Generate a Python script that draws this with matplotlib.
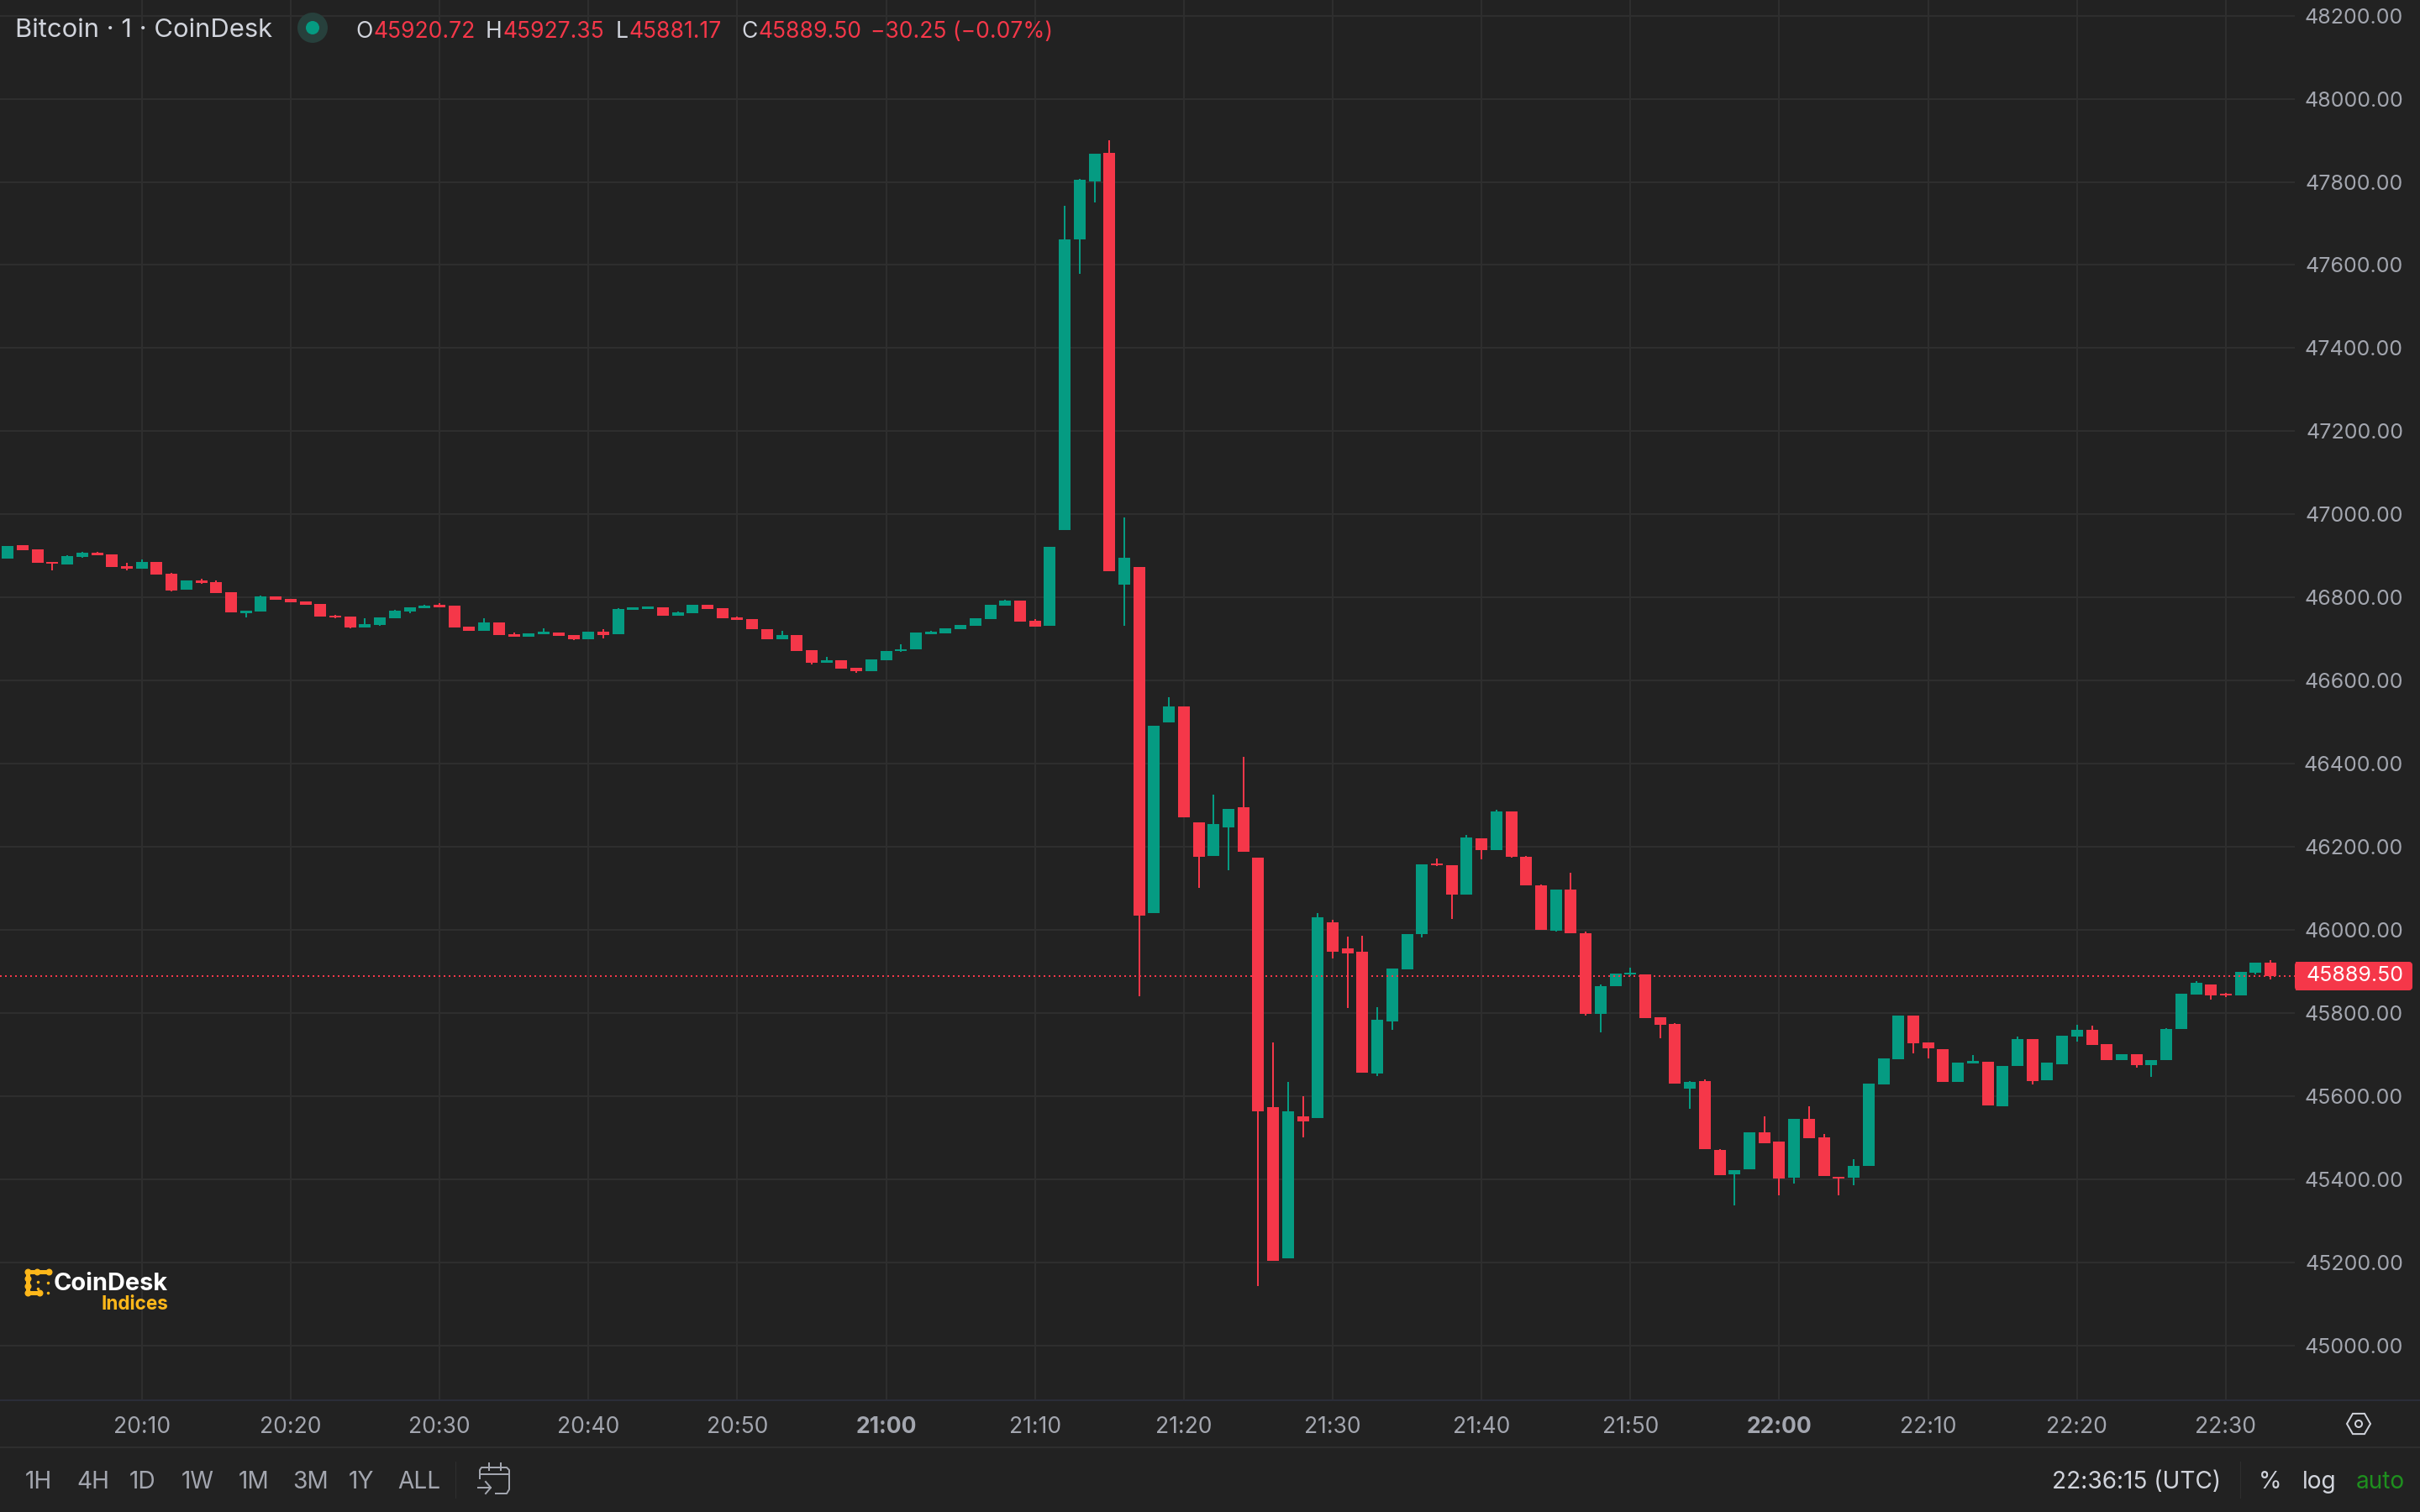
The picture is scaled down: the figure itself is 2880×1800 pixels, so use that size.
import numpy as np
import matplotlib
matplotlib.use("Agg")
import matplotlib.pyplot as plt
from matplotlib.patches import Circle, FancyBboxPatch, RegularPolygon, Rectangle

plt.rcParams['font.family'] = ['Inter', 'DejaVu Sans']

# one candle per minute, first one is 20:01
opens = [46894.3, 46925.0, 46916.6, 46886.2, 46880.2, 46898.4, 46908.5, 46904.4, 46876.1, 46870.0,
         46886.2, 46857.9, 46819.5, 46841.8, 46837.7, 46813.5, 46763.0, 46767.0, 46803.4, 46797.3,
         46791.2, 46785.2, 46756.9, 46754.9, 46728.6, 46734.6, 46750.8, 46767.0, 46775.1, 46783.2,
         46781.1, 46730.6, 46720.5, 46740.7, 46712.4, 46706.4, 46712.4, 46716.5, 46710.4, 46700.3,
         46718.5, 46712.4, 46771.0, 46773.0, 46777.1, 46756.9, 46762.9, 46783.2, 46775.1, 46752.8,
         46748.8, 46724.5, 46700.3, 46710.4, 46673.3, 46643.0, 46649.0, 46630.9, 46622.8, 46649.0,
         46672.0, 46676.0, 46712.4, 46714.4, 46724.5, 46732.6, 46748.8, 46781.1, 46793.3, 46744.8,
         46732.8, 46963.0, 47661.7, 47801.6, 47869.6, 46830.1, 46874.2, 46041.0, 46499.9, 46538.2,
         46258.9, 46179.0, 46246.9, 46296.2, 46174.6, 45574.4, 45210.8, 45552.5, 45548.1, 46019.1,
         45956.6, 45947.9, 45655.4, 45780.3, 45906.2, 45990.6, 46160.4, 46156.0, 46085.9, 46220.6,
         46192.1, 46285.2, 46176.8, 46107.8, 45998.2, 46097.9, 45992.8, 45797.7, 45864.4, 45892.7,
         45892.7, 45789.6, 45773.4, 45617.8, 45636.0, 45470.1, 45411.5, 45423.7, 45512.6, 45490.4,
         45403.5, 45545.0, 45500.5, 45405.5, 45403.5, 45431.8, 45627.9, 45688.5, 45793.6, 45728.9,
         45712.8, 45633.9, 45678.4, 45682.8, 45575.8, 45672.7, 45737.4, 45638.4, 45676.8, 45743.4,
         45759.6, 45725.3, 45686.9, 45701.0, 45674.7, 45686.9, 45761.6, 45844.4, 45868.7, 45845.8,
         45842.4, 45897.0, 45920.7]
closes = [46924.6, 46914.5, 46884.2, 46882.2, 46900.4, 46908.5, 46902.4, 46874.1, 46870.0, 46886.2,
          46855.9, 46817.5, 46841.8, 46835.7, 46811.5, 46765.0, 46769.0, 46803.4, 46795.3, 46789.2,
          46783.2, 46754.9, 46752.8, 46728.6, 46736.7, 46752.8, 46769.0, 46777.1, 46781.1, 46777.1,
          46728.6, 46720.5, 46740.7, 46710.4, 46706.4, 46714.4, 46718.5, 46708.4, 46700.3, 46718.5,
          46710.4, 46773.0, 46777.1, 46779.1, 46756.9, 46765.0, 46783.2, 46773.0, 46750.8, 46746.8,
          46724.5, 46700.3, 46710.4, 46672.0, 46643.0, 46649.0, 46628.8, 46622.8, 46651.1, 46671.3,
          46676.0, 46716.5, 46718.5, 46726.6, 46734.6, 46750.8, 46783.2, 46793.3, 46742.7, 46730.6,
          46922.9, 47661.7, 47805.4, 47868.0, 46864.0, 46896.6, 46035.5, 46491.1, 46538.2, 46271.0,
          46176.8, 46255.6, 46291.8, 46188.8, 45564.5, 45204.2, 45564.5, 45540.4, 46031.1, 45947.9,
          45944.6, 45657.6, 45784.7, 45907.3, 45990.6, 46158.2, 46156.0, 46085.9, 46222.8, 46192.1,
          46285.2, 46176.8, 46107.8, 46000.4, 46097.9, 45992.8, 45797.7, 45864.4, 45894.7, 45896.8,
          45787.6, 45771.4, 45629.9, 45633.9, 45472.2, 45409.5, 45421.6, 45512.6, 45486.3, 45401.4,
          45545.0, 45498.5, 45407.5, 45401.4, 45431.8, 45629.9, 45690.5, 45793.6, 45726.9, 45714.8,
          45633.9, 45680.4, 45684.5, 45577.8, 45672.7, 45737.4, 45636.4, 45680.8, 45745.5, 45759.6,
          45723.2, 45686.9, 45701.0, 45674.7, 45686.9, 45761.6, 45846.5, 45872.7, 45842.4, 45841.8,
          45899.0, 45921.2, 45889.5]
highs = [46924.6, 46925.0, 46916.6, 46886.2, 46902.4, 46910.5, 46910.5, 46904.4, 46884.2, 46892.3,
         46886.2, 46860.0, 46841.8, 46845.8, 46841.8, 46813.5, 46769.0, 46805.4, 46803.4, 46797.3,
         46791.2, 46785.2, 46758.9, 46754.9, 46750.8, 46752.8, 46771.0, 46777.1, 46783.2, 46787.2,
         46781.1, 46730.6, 46750.8, 46740.7, 46716.5, 46714.4, 46726.6, 46716.5, 46710.4, 46718.5,
         46724.5, 46775.1, 46777.1, 46779.1, 46777.1, 46767.0, 46783.2, 46783.2, 46775.1, 46754.9,
         46748.8, 46724.5, 46720.5, 46710.4, 46673.3, 46657.0, 46649.0, 46630.9, 46651.1, 46671.3,
         46688.2, 46716.5, 46720.5, 46726.6, 46734.6, 46750.8, 46783.2, 46795.3, 46793.3, 46748.8,
         46922.9, 47742.8, 47807.0, 47868.0, 47900.0, 46991.7, 46874.2, 46491.1, 46560.1, 46538.2,
         46258.9, 46325.7, 46291.8, 46416.6, 46174.6, 45729.9, 45634.6, 45600.7, 46041.0, 46024.5,
         45984.0, 45986.2, 45814.2, 45907.3, 45990.6, 46158.2, 46172.4, 46156.0, 46229.4, 46220.6,
         46289.6, 46285.2, 46179.0, 46110.0, 46097.9, 46138.4, 45997.1, 45868.4, 45894.7, 45908.9,
         45892.7, 45789.6, 45775.5, 45636.0, 45640.0, 45472.2, 45421.6, 45512.6, 45551.0, 45490.4,
         45545.0, 45575.3, 45508.6, 45405.5, 45447.9, 45629.9, 45690.5, 45793.6, 45793.6, 45728.9,
         45712.8, 45680.4, 45698.6, 45682.8, 45672.7, 45743.4, 45737.4, 45680.8, 45745.5, 45771.7,
         45769.7, 45725.3, 45701.0, 45701.0, 45686.9, 45763.6, 45846.5, 45876.8, 45868.7, 45847.8,
         45899.0, 45921.2, 45927.3]
lows = [46894.3, 46914.5, 46884.2, 46866.0, 46880.2, 46896.3, 46902.4, 46874.1, 46866.0, 46870.0,
        46855.9, 46815.5, 46819.5, 46833.7, 46811.5, 46765.0, 46752.8, 46767.0, 46795.3, 46789.2,
        46783.2, 46754.9, 46750.8, 46726.6, 46728.6, 46732.6, 46750.8, 46762.9, 46775.1, 46777.1,
        46728.6, 46720.5, 46720.5, 46710.4, 46706.4, 46706.4, 46712.4, 46708.4, 46698.3, 46700.3,
        46702.3, 46712.4, 46771.0, 46773.0, 46756.9, 46756.9, 46762.9, 46773.0, 46750.8, 46746.8,
        46724.5, 46700.3, 46700.3, 46672.0, 46639.0, 46643.0, 46628.8, 46618.7, 46622.8, 46649.0,
        46670.0, 46676.0, 46712.4, 46714.4, 46724.5, 46732.6, 46748.8, 46781.1, 46742.7, 46730.6,
        46732.8, 46963.0, 47579.0, 47750.5, 46864.0, 46732.8, 45840.5, 46041.0, 46499.9, 46271.0,
        46101.2, 46179.0, 46143.9, 46188.8, 45143.9, 45204.2, 45210.8, 45502.0, 45548.1, 45931.4,
        45813.1, 45657.6, 45648.9, 45760.6, 45906.2, 45982.9, 46153.8, 46026.7, 46085.9, 46170.2,
        46192.1, 46174.6, 46107.8, 46000.4, 45996.0, 45992.8, 45794.5, 45753.2, 45864.4, 45890.0,
        45787.6, 45739.0, 45629.9, 45569.2, 45472.2, 45409.5, 45336.7, 45423.7, 45486.3, 45361.0,
        45389.3, 45498.5, 45407.5, 45361.0, 45385.2, 45431.8, 45627.9, 45688.5, 45702.7, 45690.5,
        45633.9, 45633.9, 45678.4, 45577.8, 45575.8, 45672.7, 45628.3, 45638.4, 45676.8, 45731.3,
        45723.2, 45686.9, 45686.9, 45668.7, 45646.5, 45686.9, 45761.6, 45844.4, 45832.3, 45839.0,
        45842.4, 45892.9, 45881.2]

last_price = 45889.50
price_ticks = [45000, 45200, 45400, 45600, 45800, 46000, 46200, 46400, 46600, 46800,
               47000, 47200, 47400, 47600, 47800, 48000, 48200]
time_ticks = [0, 10, 20, 30, 40, 50, 60, 70, 80, 90, 100, 110, 120, 130, 140]  # minutes after 20:10
time_labels = ["20:10", "20:20", "20:30", "20:40", "20:50", "21:00", "21:10", "21:20",
               "21:30", "21:40", "21:50", "22:00", "22:10", "22:20", "22:30"]
bold_labels = ["21:00", "22:00"]
range_buttons = ["1H", "4H", "1D", "1W", "1M", "3M", "1Y", "ALL"]
range_x = [30, 91, 154, 216, 284, 348, 415, 473]

BG = "#222222"
GRID = "#2E2E2E"
UP = "#059B82"
DOWN = "#F53749"
LABEL = "#A3A6AF"
TEXT = "#D1D4DC"
PX = 72 / 200  # one pixel in points


def drawCandles(ax):
    minutes = np.arange(len(opens)) - 9
    o, c = np.array(opens), np.array(closes)
    colors = [UP if cl >= op else DOWN for op, cl in zip(o, c)]
    ax.vlines(minutes, lows, highs, colors=colors, linewidth=2 * PX, zorder=3)
    ax.bar(minutes, np.abs(c - o), bottom=np.minimum(o, c), width=0.79, color=colors,
           linewidth=0, zorder=3)


def drawHeader(ov):
    ov.text(18, 36, "Bitcoin · 1 · CoinDesk", color=TEXT, fontsize=31 * PX, va="center")
    ov.add_patch(Circle((372, 33), 18, color="#27403C", linewidth=0))
    ov.add_patch(Circle((372, 33), 8, color=UP, linewidth=0))
    parts = [(423, "O", TEXT), (445, "45920.72", DOWN), (578, "H", TEXT), (599, "45927.35", DOWN),
             (733, "L", TEXT), (749, "45881.17", DOWN), (882, "C", TEXT), (902, "45889.50", DOWN),
             (1036, "\u221230.25 (\u22120.07%)", DOWN)]
    for x, s, col in parts:
        ov.text(x, 38, s, color=col, fontsize=26.5 * PX, va="center")


def drawLogo(ov):
    yellow = "#FDB71A"
    ov.plot([33, 58], [1514, 1514], color=yellow, lw=5 * PX, solid_capstyle="round")
    ov.plot([33, 33, 47], [1514, 1539, 1539], color=yellow, lw=5 * PX, solid_capstyle="round",
            solid_joinstyle="round")
    ov.scatter([33, 44, 58, 33, 33, 33, 47], [1514, 1514, 1514, 1522, 1531, 1539, 1539],
               s=(8 * PX) ** 2, color=yellow, linewidth=0)
    ov.scatter([45, 57, 45, 57], [1526, 1527, 1534, 1539], s=(3.5 * PX) ** 2, color=yellow, linewidth=0)
    ov.text(200, 1528, "CoinDesk", color="white", fontsize=29 * PX, fontweight="bold",
            ha="right", va="center")
    ov.text(200, 1553, "Indices", color=yellow, fontsize=22.5 * PX, fontweight="bold",
            ha="right", va="center")


def drawBottom(ov):
    ov.plot([0, 2731], [1667, 1667], color="#2A2D38", lw=2 * PX)
    ov.plot([2733, 2880], [1667, 1667], color="#2A2D38", lw=2 * PX)
    ov.plot([0, 2880], [1723, 1723], color=GRID, lw=2 * PX)
    for x, s in zip(range_x, range_buttons):
        ov.text(x, 1765, s, color=LABEL, fontsize=28 * PX, va="center")
    ov.plot([542, 542], [1740, 1783], color=GRID, lw=1 * PX)
    # calendar icon
    ov.plot([571, 571, 573, 603, 606, 606, 603, 590], [1760, 1750, 1747, 1747, 1750, 1773, 1778, 1778],
            color=LABEL, lw=2 * PX)
    ov.plot([571, 606], [1755, 1755], color=LABEL, lw=2 * PX)
    ov.plot([582, 582], [1742, 1750], color=LABEL, lw=2 * PX)
    ov.plot([596, 596], [1742, 1750], color=LABEL, lw=2 * PX)
    ov.plot([569, 584], [1771, 1771], color=LABEL, lw=2 * PX)
    ov.plot([578, 584, 578], [1764, 1771, 1778], color=LABEL, lw=2 * PX)

    ov.text(2442, 1765, "22:36:15 (UTC)", color=TEXT, fontsize=28 * PX, va="center")
    ov.plot([2666, 2666], [1740, 1783], color=GRID, lw=1 * PX)
    ov.text(2688, 1765, "%", color=TEXT, fontsize=28 * PX, va="center")
    ov.text(2740, 1765, "log", color=TEXT, fontsize=28 * PX, va="center")
    ov.text(2804, 1765, "auto", color="#1E8F1E", fontsize=28 * PX, va="center")
    ov.add_patch(RegularPolygon((2807, 1695), 6, radius=14, orientation=np.pi / 2, fill=False,
                                edgecolor=TEXT, linewidth=2 * PX))
    ov.add_patch(Circle((2807, 1695), 4, fill=False, edgecolor=TEXT, linewidth=2 * PX))


fig = plt.figure(figsize=(14.4, 9), dpi=200, facecolor=BG)
# price area ends at pixel x=2731, y=1667
ax = fig.add_axes([0, 1 - 1667 / 1800, 2731 / 2880, 1667 / 1800], facecolor=BG)
ax.set_xlim(-9.525, 144.63)
ax.set_ylim(44868.5, 48237.6)
for s in ax.spines.values():
    s.set_visible(False)
ax.set_axisbelow(True)
ax.grid(True, color=GRID, linewidth=2 * PX)

ax.set_yticks(price_ticks)
ax.set_yticklabels(["{:.2f}".format(p) for p in price_ticks], ha="right")
ax.yaxis.tick_right()
ax.tick_params(axis="y", length=0, pad=129 * PX, labelsize=25 * PX, labelcolor=LABEL)
ax.set_xticks(time_ticks)
ax.set_xticklabels(time_labels)
ax.tick_params(axis="x", length=0, pad=19 * PX, labelsize=26.5 * PX, labelcolor=LABEL)
for t in ax.get_xticklabels():
    if t.get_text() in bold_labels:
        t.set_fontweight("bold")

drawCandles(ax)
ax.axhline(last_price, color=DOWN, lw=2 * PX, linestyle=(0, (1, 2)), zorder=4)

ov = fig.add_axes([0, 0, 1, 1], facecolor="none")
ov.set_xlim(0, 2880)
ov.set_ylim(1800, 0)
ov.axis("off")
drawHeader(ov)
drawLogo(ov)
drawBottom(ov)
ov.add_patch(FancyBboxPatch((2732, 1146), 138, 32, boxstyle="round,pad=0,rounding_size=3",
                            facecolor=DOWN, edgecolor=DOWN, linewidth=2 * PX))
ov.add_patch(Rectangle((2732, 1145), 6, 34, facecolor=DOWN, linewidth=0))
ov.text(2860, 1162, "{:.2f}".format(last_price), color="white", fontsize=25 * PX, ha="right", va="center")

fig.savefig("out.png", dpi=200, facecolor=BG)
